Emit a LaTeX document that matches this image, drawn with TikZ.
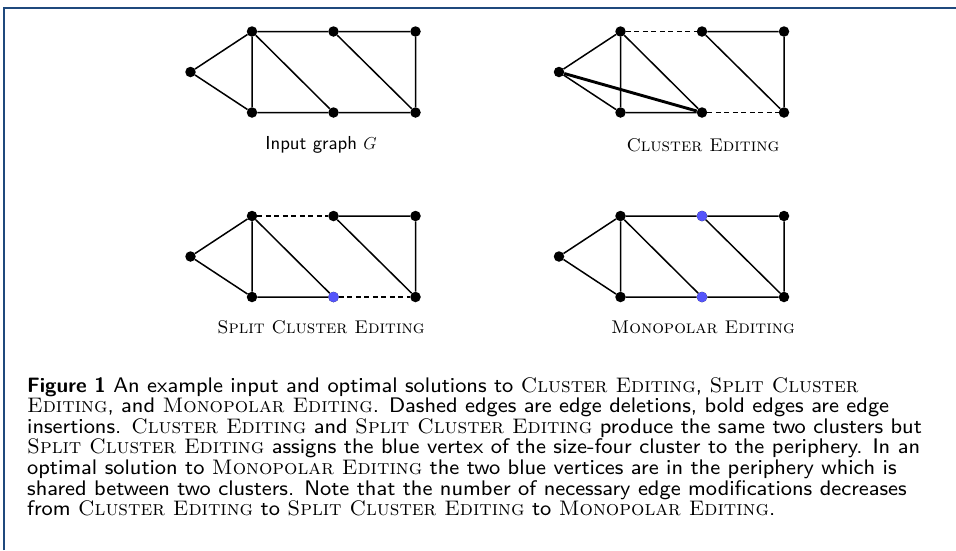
\documentclass[tikz,border=0pt]{standalone}
\usepackage{fontspec}
\usepackage{xcolor}
\newfontfamily\capsans{lmsans8-regular.otf}[BoldFont=lmsans10-bold.otf]
\newfontfamily\lblsans{lmsans10-regular.otf}
\newfontfamily\scfont{lmromancaps10-regular.otf}
\definecolor{framec}{RGB}{31,73,125}
\definecolor{bluev}{RGB}{85,85,250}
\newcommand\probname[1]{{\fontsize{21.05}{20.6}\selectfont\scfont #1}}
\newcommand\lblname[1]{{\fontsize{18.4}{22}\selectfont\scfont #1}}
\newcommand\graphverts[3]{%
  \node[vdot] (#1L)  at (#2, #3) {};
  \node[vdot] (#1TL) at (#2+61.5, #3-40.5) {};
  \node[vdot] (#1TM) at (#2+143, #3-40.5) {};
  \node[vdot] (#1TR) at (#2+225, #3-40.5) {};
  \node[vdot] (#1BL) at (#2+61.5, #3+40.5) {};
  \node[vdot] (#1BM) at (#2+143, #3+40.5) {};
  \node[vdot] (#1BR) at (#2+225, #3+40.5) {};
}
\begin{document}
\begin{tikzpicture}[x=1pt,y=-1pt,
  vdot/.style={circle,fill=black,draw=none,minimum size=10.5pt,inner sep=0pt},
  bluedot/.style={fill=bluev},
  edge/.style={line width=1.5pt},
  deledge/.style={line width=1.5pt,dash pattern=on 5pt off 3.5pt},
  insedge/.style={line width=2.9pt},
  lbl/.style={font=\fontsize{18.8}{22}\selectfont\lblsans,inner sep=0pt},
  capt/.style={font=\fontsize{21.1}{20.6}\selectfont\capsans,inner sep=0pt,align=left,anchor=north west}]
\useasboundingbox (0,0) rectangle (956,550);
\draw[framec,line width=1.2pt] (4,550) -- (4,8) -- (956,8);
% Graph 1: input
\graphverts{a}{190.5}{72}
\draw[edge] (aL)--(aTL) (aL)--(aBL) (aTL)--(aBL) (aTL)--(aTM) (aTM)--(aTR)
  (aTL)--(aBM) (aTM)--(aBR) (aTR)--(aBR) (aBL)--(aBM) (aBM)--(aBR);
\node[lbl] (la) at (321,145) {Input graph $G$};
% Graph 2: cluster editing
\graphverts{b}{559}{72}
\draw[edge] (bL)--(bTL) (bL)--(bBL) (bTL)--(bBL) (bTM)--(bTR)
  (bTL)--(bBM) (bTM)--(bBR) (bTR)--(bBR) (bBL)--(bBM);
\draw[deledge] (bTL)--(bTM) (bBM)--(bBR);
\draw[insedge] (bL)--(bBM);
\node[lbl] (lb) at (703,145) {\lblname{Cluster Editing}};
% Graph 3: split cluster editing
\graphverts{c}{190.5}{256.5}
\node[vdot,bluedot] at (cBM) {};
\draw[edge] (cL)--(cTL) (cL)--(cBL) (cTL)--(cBL) (cTM)--(cTR)
  (cTL)--(cBM) (cTM)--(cBR) (cTR)--(cBR) (cBL)--(cBM);
\draw[deledge] (cTL)--(cTM) (cBM)--(cBR);
\node[lbl] (lc) at (321,327) {\lblname{Split Cluster Editing}};
% Graph 4: monopolar editing
\graphverts{d}{559}{256.5}
\node[vdot,bluedot] at (dTM) {};
\node[vdot,bluedot] at (dBM) {};
\draw[edge] (dL)--(dTL) (dL)--(dBL) (dTL)--(dBL) (dTL)--(dTM) (dTM)--(dTR)
  (dTL)--(dBM) (dTM)--(dBR) (dTR)--(dBR) (dBL)--(dBM) (dBM)--(dBR);
\node[lbl] (ld) at (703,327) {\lblname{Monopolar Editing}};
% Caption
\node[capt] (cap) at (27,377) {{\fontsize{20.8}{20.6}\selectfont\bfseries Figure 1} An example input and optimal solutions to \probname{Cluster Editing}, \probname{Split Cluster}\\
\probname{Editing}, and \probname{Monopolar Editing}. Dashed edges are edge deletions, bold edges are edge\\
insertions. \probname{Cluster Editing} and \probname{Split Cluster Editing} produce the same two clusters but\\
\probname{Split Cluster Editing} assigns the blue vertex of the size-four cluster to the periphery. In an\\
optimal solution to \probname{Monopolar Editing} the two blue vertices are in the periphery which is\\
shared between two clusters. Note that the number of necessary edge modifications decreases\\
from \probname{Cluster Editing} to \probname{Split Cluster Editing} to \probname{Monopolar Editing}.};
\end{tikzpicture}
\end{document}
